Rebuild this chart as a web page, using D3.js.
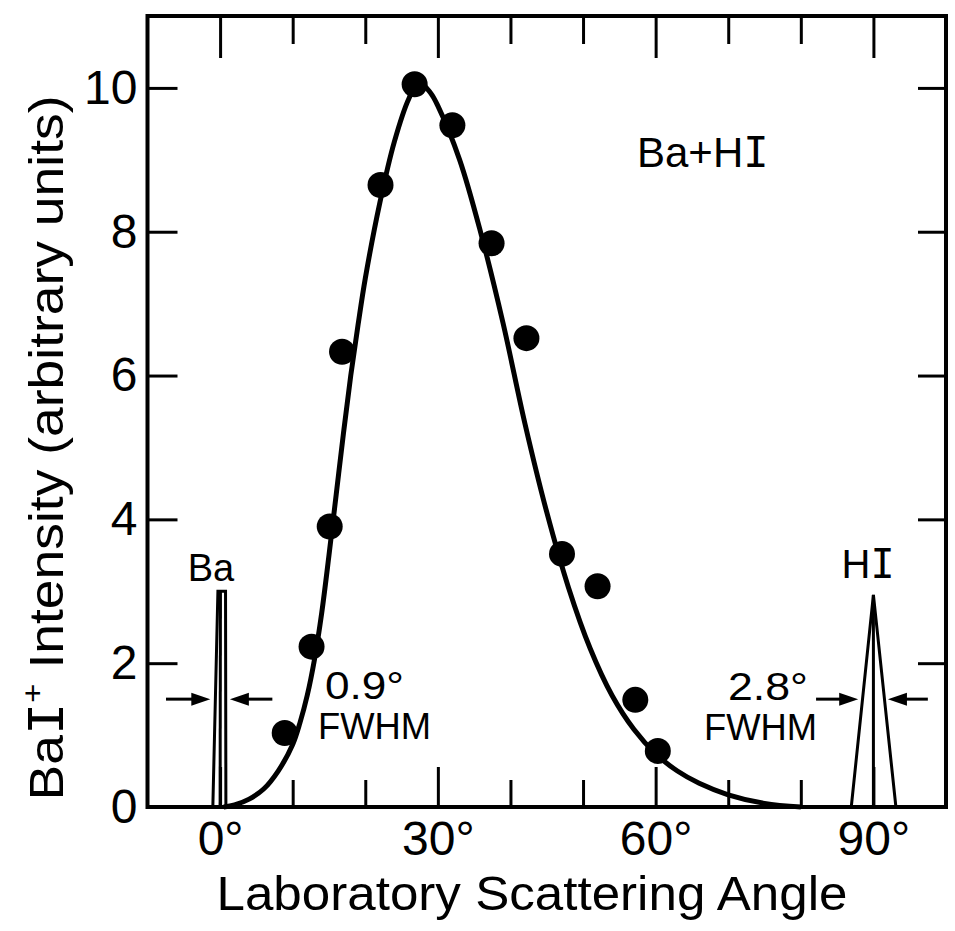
<!DOCTYPE html>
<html><head><meta charset="utf-8">
<script src="https://cdn.jsdelivr.net/npm/d3@7"></script>
<style>
html,body{margin:0;padding:0;background:#fff;}
svg{display:block;}
text{font-family:"Liberation Sans",Arial,sans-serif;fill:#000;}
</style></head><body>
<svg id="chart" width="955" height="931"></svg>
<script>
// ---- data ----
const angles      = [8.9, 12.6, 15.1, 16.8, 22.1, 26.8, 32.0, 37.4, 42.2, 47.1, 52.0, 57.2, 60.3];
const intensities = [1.03, 2.23, 3.90, 6.33, 8.65, 10.05, 9.48, 7.84, 6.52, 3.52, 3.07, 1.49, 0.78];

const fitAngles = [0.5, 2, 4, 6, 8, 10, 11, 12, 13, 14, 15, 16, 17, 18, 19, 20, 22, 24, 26, 27.4, 29, 30, 33, 36, 39, 42, 45, 48, 51, 54, 57, 60, 63, 66, 70, 75, 80];
const fitValues = [0, 0.03, 0.11, 0.25, 0.5, 0.87, 1.17, 1.55, 2.05, 2.7, 3.5, 4.35, 5.2, 6.0, 6.7, 7.35, 8.4, 9.25, 9.85, 10.08, 9.93, 9.75, 9.0, 7.95, 6.72, 5.33, 4.1, 3.05, 2.2, 1.55, 1.08, 0.74, 0.5, 0.33, 0.17, 0.05, 0];

const baPeakAngles = [-1.0, -0.3, 0.75, 0.8];
const baPeakValues = [0, 3.0, 3.0, 0];
const baCenterAngles = [0, 0.05];
const baCenterValues = [0, 3.0];
const hiPeakAngles = [86.95, 90, 93.1];
const hiPeakValues = [0, 2.95, 0];
const hiCenterAngles = [90, 90];
const hiCenterValues = [0, 2.95];

const arrowFrom  = [-7.45, 7.2, 82.1, 97.5];
const arrowTo    = [-1.35, 1.35, 87.9, 92.0];
const arrowLevel = 1.5;

const xTickValues  = [0, 10, 20, 30, 40, 50, 60, 70, 80, 90];
const xMajorTicks  = [0, 30, 60, 90];
const xTickLabels  = ["0°", "30°", "60°", "90°"];
const yTickValues  = [0, 2, 4, 6, 8, 10];
const yTickLabels  = ["0", "2", "4", "6", "8", "10"];

// ---- scales ----
const svg = d3.select("#chart");
const x = d3.scaleLinear().domain([-10, 100]).range([147.5, 946]);
const y = d3.scaleLinear().domain([0, 11]).range([807, 16]);
const sans = "Liberation Sans, Arial, sans-serif";
const mono = "DejaVu Sans Mono, Liberation Mono, monospace";

// ---- frame ----
svg.append("rect")
  .attr("x", x(-10)).attr("y", y(11))
  .attr("width", x(100) - x(-10)).attr("height", y(0) - y(11))
  .attr("fill", "none").attr("stroke", "#000").attr("stroke-width", 4);

// bottom ticks (inward)
const gb = svg.append("g").attr("transform", `translate(0,${y(0)})`)
  .call(d3.axisBottom(x).tickValues(xTickValues).tickSizeInner(-27).tickSizeOuter(0).tickFormat(""));
gb.select(".domain").remove();
gb.selectAll(".tick line").attr("y2", d => xMajorTicks.includes(d) ? -40 : -27).attr("stroke-width", 3);

// top ticks (inward)
const gt = svg.append("g").attr("transform", `translate(0,${y(11)})`)
  .call(d3.axisTop(x).tickValues(xTickValues).tickSizeInner(-28).tickSizeOuter(0).tickFormat(""));
gt.select(".domain").remove();
gt.selectAll(".tick line").attr("y2", d => xMajorTicks.includes(d) ? 42 : 28).attr("stroke-width", 3);

// bottom labels
const gbl = svg.append("g").attr("transform", `translate(0,${y(0)})`)
  .call(d3.axisBottom(x).tickValues(xMajorTicks).tickSize(0).tickPadding(14)
    .tickFormat((d, i) => xTickLabels[i]));
gbl.select(".domain").remove();
gbl.selectAll("text").attr("font-size", 48).attr("font-family", sans).attr("fill", "#000");

// left ticks + labels
const gl = svg.append("g").attr("transform", `translate(${x(-10)},0)`)
  .call(d3.axisLeft(y).tickValues(yTickValues).tickSizeInner(-30).tickSizeOuter(0).tickPadding(10)
    .tickFormat((d, i) => yTickLabels[i]));
gl.select(".domain").remove();
gl.selectAll(".tick line").attr("stroke-width", 3).attr("x2", d => d === 0 ? 0 : 30);
gl.selectAll("text").attr("font-size", 48).attr("font-family", sans).attr("fill", "#000");

// right ticks
const gr = svg.append("g").attr("transform", `translate(${x(100)},0)`)
  .call(d3.axisRight(y).tickValues(yTickValues.filter(d => d > 0)).tickSizeInner(-28).tickSizeOuter(0).tickFormat(""));
gr.select(".domain").remove();
gr.selectAll(".tick line").attr("stroke-width", 3);

// ---- fitted curve ----
const line = d3.line().x(d => x(d[0])).y(d => y(d[1])).curve(d3.curveCatmullRom.alpha(0.5));
svg.append("path")
  .datum(fitAngles.map((a, i) => [a, fitValues[i]]))
  .attr("d", line).attr("fill", "none").attr("stroke", "#000").attr("stroke-width", 5)
  .attr("stroke-linejoin", "round");

// ---- beam profiles ----
const straight = d3.line().x(d => x(d[0])).y(d => y(d[1]));
function poly(as, vs) {
  svg.append("path").datum(as.map((a, i) => [a, vs[i]]))
    .attr("d", straight).attr("fill", "none").attr("stroke", "#000").attr("stroke-width", 3)
    .attr("stroke-linejoin", "miter");
}
poly(baPeakAngles, baPeakValues);
poly(baCenterAngles, baCenterValues);
poly(hiPeakAngles, hiPeakValues);
poly(hiCenterAngles, hiCenterValues);

// ---- FWHM arrows ----
arrowFrom.forEach((f, i) => {
  const x0 = x(f), x1 = x(arrowTo[i]), yy = y(arrowLevel);
  const dir = Math.sign(x1 - x0);
  const head = 19, half = 6.5;
  svg.append("line").attr("x1", x0).attr("y1", yy).attr("x2", x1 - dir * head * 0.8).attr("y2", yy)
    .attr("stroke", "#000").attr("stroke-width", 3);
  svg.append("path")
    .attr("d", `M${x1},${yy}L${x1 - dir * head},${yy - half}L${x1 - dir * head},${yy + half}Z`)
    .attr("fill", "#000");
});

// ---- data points ----
svg.append("g").selectAll("circle")
  .data(angles.map((a, i) => [a, intensities[i]]))
  .join("circle")
  .attr("cx", d => x(d[0])).attr("cy", d => y(d[1])).attr("r", 13).attr("fill", "#000");

// ---- annotations ----
function label(px, py, size, anchor, len) {
  const t = svg.append("text").attr("x", px).attr("y", py).attr("font-size", size)
    .attr("font-family", sans).attr("text-anchor", anchor || "start");
  if (len) t.attr("textLength", len).attr("lengthAdjust", "spacingAndGlyphs");
  return t;
}
// Ba+HI
{
  const t = label(637, 167, 42, "start");
  t.append("tspan").text("Ba+H");
  t.append("tspan").attr("font-family", mono).text("I");
}
// Ba label
label(211, 581, 38, "middle").text("Ba");
// HI label
{
  const t = label(868, 578, 40, "middle");
  t.append("tspan").text("H");
  t.append("tspan").attr("font-family", mono).text("I");
}
label(325, 699, 38, "start", 79).text("0.9°");
label(318, 739, 37, "start", 113).text("FWHM");
label(728, 700, 38, "start", 80).text("2.8°");
label(704, 740, 37, "start", 113).text("FWHM");

// axis titles
svg.append("text").attr("x", 532).attr("y", 910).attr("text-anchor", "middle")
  .attr("font-size", 49).attr("textLength", 631).attr("lengthAdjust", "spacingAndGlyphs")
  .text("Laboratory  Scattering Angle");

{
  const t = svg.append("text").attr("transform", "translate(63,448) rotate(-90)")
    .attr("text-anchor", "middle").attr("font-size", 48)
    .attr("textLength", 705).attr("lengthAdjust", "spacingAndGlyphs");
  t.append("tspan").text("Ba");
  t.append("tspan").attr("font-family", mono).text("I");
  t.append("tspan").attr("font-size", 30).attr("dy", -20).text("+");
  t.append("tspan").attr("dy", 20).text(" Intensity (arbitrary units)");
}
</script>
</body></html>
